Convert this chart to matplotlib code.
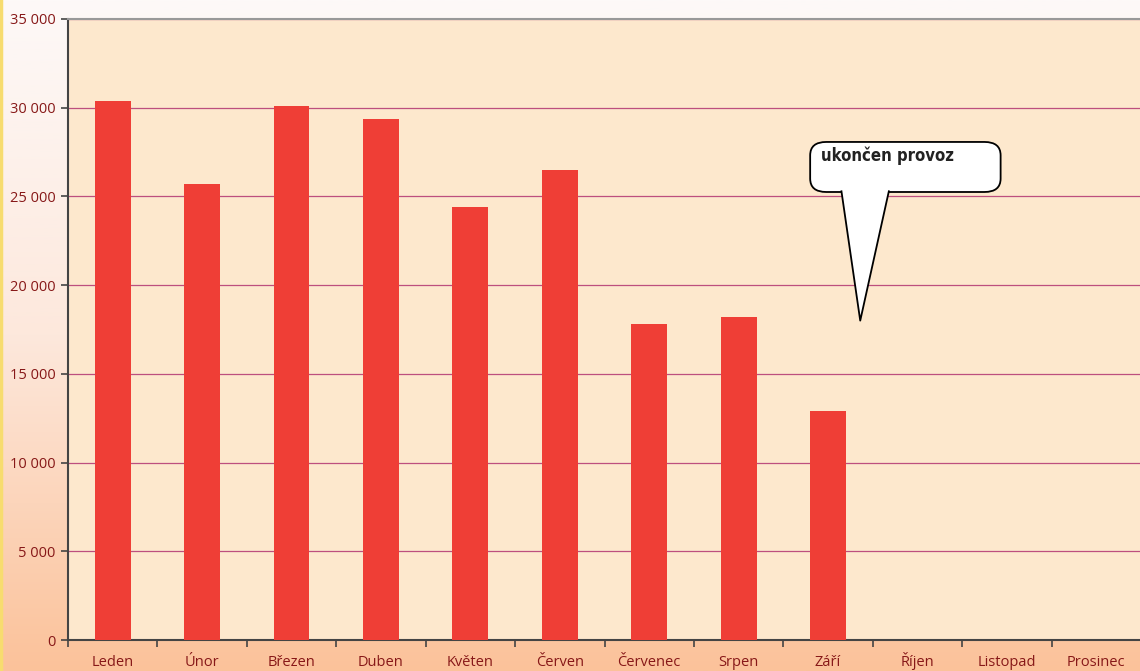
import matplotlib
matplotlib.use("Agg")
import matplotlib.pyplot as plt
import numpy as np
from matplotlib.patches import FancyBboxPatch, Polygon
from matplotlib.colors import LinearSegmentedColormap

months = ["Leden", "Únor", "Březen", "Duben", "Květen", "Červen",
          "Červenec", "Srpen", "Září", "Říjen", "Listopad", "Prosinec"]
values = [30400, 25700, 30100, 29350, 24400, 26500, 17800, 18200, 12900, 0, 0, 0]
yticks = [0, 5000, 10000, 15000, 20000, 25000, 30000, 35000]
ytick_labels = ["0", "5 000", "10 000", "15 000", "20 000", "25 000", "30 000", "35 000"]
note = "ukončen provoz"

W, H = 1140, 671
fig = plt.figure(figsize=(W / 100, H / 100), dpi=100)

# background gradient
bg = fig.add_axes([0, 0, 1, 1], zorder=-10)
cmap = LinearSegmentedColormap.from_list("bg", ["#fdf9f8", "#fde8dc", "#fbc29a"])
grad = np.linspace(0, 1, 256).reshape(-1, 1)
bg.imshow(grad, aspect="auto", cmap=cmap, extent=[0, 1, 0, 1], origin="upper")
bg.axvline(0.001, color="#f7dc6f", lw=2.5)
bg.set_xlim(0, 1)
bg.set_ylim(0, 1)
bg.axis("off")

left, right, top, bottom = 68, 1141, 19, 640
ax = fig.add_axes([left / W, 1 - bottom / H, (right - left) / W, (bottom - top) / H])
ax.set_facecolor("#fde8cd")

x = np.arange(len(months))
ax.bar(x, values, width=0.4, color="#ef3e36", zorder=3)

ax.set_xlim(-0.5, len(months) - 0.5)
ax.set_ylim(0, 35000)
ax.set_yticks(yticks)
ax.set_yticklabels(ytick_labels)
ax.yaxis.grid(True, color="#bd4f7e", lw=0.9, zorder=1)
ax.set_axisbelow(True)

ax.set_xticks(x)
ax.set_xticklabels(months)
ax.set_xticks(np.arange(-0.5, len(months) + 0.5, 1), minor=True)
ax.tick_params(axis="x", which="major", length=0, pad=18.5)
ax.tick_params(axis="x", which="minor", length=5, width=1.2, color="#444444", direction="out")
ax.tick_params(axis="y", length=5, width=1.2, color="#444444", direction="out", pad=4)

label_color = "#871818"
for lab in ax.get_xticklabels() + ax.get_yticklabels():
    lab.set_color(label_color)
    lab.set_fontsize(10.5)
    lab.set_fontfamily("Open Sans")
for lab in ax.get_xticklabels():
    lab.set_verticalalignment("baseline")

for s in ["left", "bottom"]:
    ax.spines[s].set_color("#444444")
    ax.spines[s].set_linewidth(1.5)
ax.spines["top"].set_color("#999999")
ax.spines["top"].set_linewidth(1.5)
ax.spines["right"].set_visible(False)

# callout
bx0, bx1 = 7.80, 9.93
by0, by1 = 25250, 28070
box = FancyBboxPatch((bx0, by0), bx1 - bx0, by1 - by0,
                     boxstyle="round,pad=0,rounding_size=0.18",
                     mutation_aspect=4200,
                     facecolor="white", edgecolor="black", lw=1.3, zorder=5)
ax.add_patch(box)
tail = [(8.15, by0 + 150), (8.68, by0 + 150), (8.36, 18000)]
ax.add_patch(Polygon(tail, closed=True, facecolor="white", edgecolor="none", zorder=6))
ax.plot([8.15, 8.36, 8.68], [by0 + 40, 18000, by0 + 40], color="black", lw=1.3, zorder=7)
ax.text(7.92, 27800, note, fontsize=12, fontweight="bold", fontstretch="condensed",
        family="DejaVu Sans", color="#222222", va="top", ha="left", zorder=8)

fig.savefig("out.png", dpi=100)
